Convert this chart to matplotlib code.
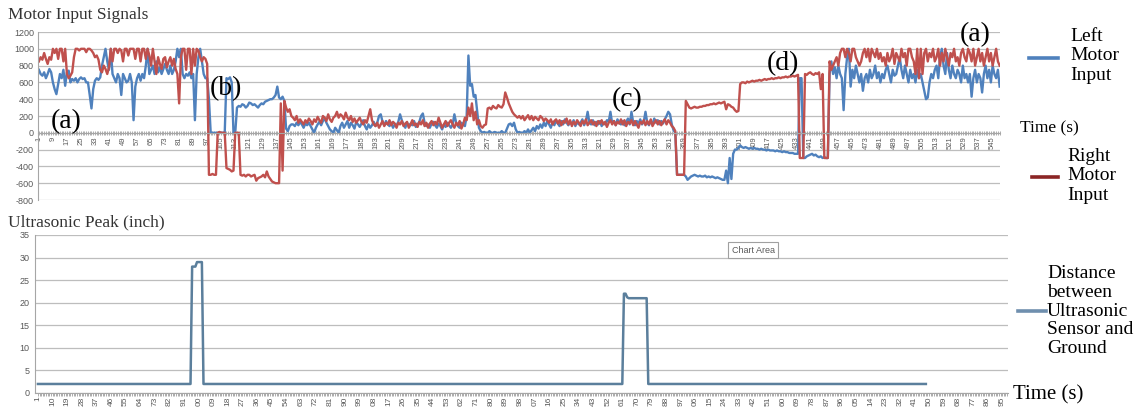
import matplotlib
matplotlib.use('Agg')
import matplotlib.pyplot as plt

# ---------------- data: Motor Input Signals (categories 1..549) ----------------
# Right motor input (red)
right_A = [850, 900, 870, 950, 880, 820, 900, 870,
           1000, 950, 1000, 880, 1000, 1000, 850, 1000,
           700, 650, 680, 720, 900, 1000, 1000, 980,
           1000, 1000, 1000, 960, 1000, 1000, 980, 950,
           900, 920, 870, 750, 720, 800, 760, 700,
           780, 1000, 850, 1000, 1000, 950, 1000, 980,
           850, 1000, 1000, 920, 1000, 1000, 1000, 880,
           1000, 1000, 850, 1000, 1000, 880, 1000, 920,
           800, 1000, 850, 700, 900, 820, 760, 880,
           900, 780, 850, 900, 800, 880, 760, 700,
           350, 900, 1000, 1000, 750, 1000, 1000, 700,
           1000, 800, 1000, 980, 900, 850, 900, 880,
           820]
right_B = [-500, -500, -490, -500, -500,
           0, 10, 0, 0, 0,
           -420, -430, -440, -460, -450,
           0, 0, 0,
           -500, -510, -500, -520, -500, -500, -520, -510, -500,
           -570, -540, -530, -520, -500, -530, -460,
           -520, -550, -580, -590, -600, -600, -600,
           350, -450, 380, 300, 250, 280, 200]
right_C = [180, 150, 200, 120, 160, 130, 100, 150, 120, 170,
           140, 100, 160, 130, 190, 150, 120, 200, 180, 140,
           220, 160, 130, 180, 200, 250, 180, 220, 200, 160,
           240, 180, 150, 200, 130, 170, 120, 150, 180, 130,
           100, 150, 120, 200, 280, 150, 100, 80, 120, 60,
           100, 140, 80, 120, 100, 150, 90, 130, 110, 60,
           120, 100, 140, 80, 110, 130, 60, 100, 150, 90,
           110, 70, 130, 100, 150, 80, 120, 60, 110, 140,
           90, 130, 100, 180, 120, 60, 100, 140, 80, 120,
           150, 100, 60, 120, 90, 140, 50, 100, 180, 150,
           300, 200, 350, 150, 250, 100, 150, 80, 60, 90,
           100, 290, 300, 280, 320, 300, 290, 330, 310, 300,
           340, 480, 420, 350, 300, 250, 220, 200, 180, 200,
           170, 200, 150, 180, 210, 160, 200, 150, 190, 170,
           150, 200, 180, 140, 170, 150, 120, 160, 100, 140,
           160, 110, 150, 90, 140, 120, 170, 100, 150, 80,
           130, 100, 150, 120, 80, 140, 110, 160, 90, 120,
           150, 100, 130, 80, 140, 110, 150, 100, 130, 70,
           120, 150, 100, 140, 90, 130, 110, 160, 100, 150,
           80, 130, 110, 150, 90, 140, 100, 60, 130, 110,
           150, 90, 140, 100, 160, 80, 120, 150, 100, 140,
           90, 130, 160, 100, 150, 120, 80, 60, 20]
right_D = [-500, -500, -500, -500, -500,
           380, 340, 300, 290, 300, 310, 300, 300, 310, 310,
           320, 320, 330, 330, 340, 340, 350, 340, 350, 360,
           350, 360, 370, 280, 340, 330, 310, 300, 270, 250,
           260, 580, 600, 600, 590, 610, 600, 610, 620, 610,
           620, 620, 630, 620, 630, 640, 630, 640, 640, 650,
           640, 650, 650, 660, 650, 660, 660, 670, 660, 670,
           670, 680, 670, 680, 690,
           -300, -300, -300,
           700, 690, 710, 720, 700, 690, 710, 700, 720, 520,
           700, -300, -300, -300]
right_E = [850, 750, 800, 850, 900, 800, 950, 1000, 1000, 900,
           1000, 950, 850, 1000, 1000, 900, 850, 800, 850, 950,
           1000, 900, 1000, 850, 1000, 950, 900, 1000, 880, 950,
           850, 900, 800, 950, 850, 900, 1000, 820, 950, 900,
           850, 1000, 900, 950, 800, 1000, 1000, 900, 850, 700,
           1000, 650, 1000, 700, 950, 1000, 850, 950, 900, 1000,
           850, 900, 1000, 800, 950, 850, 1000, 900, 800, 950,
           900, 1000, 850, 900, 800, 950, 1000, 900, 850, 1000,
           950, 850, 1000, 800, 900, 1000, 850, 950, 800, 900,
           1000, 850, 950, 800, 900, 1000, 850, 800]

# Left motor input (blue)
left_A = [750, 700, 680, 720, 650, 700, 760, 720,
          600, 520, 460, 580, 700, 650, 750, 560,
          720, 740, 600, 640, 620, 650, 600, 640,
          660, 640, 650, 600, 600, 450, 290, 520,
          620, 650, 630, 660, 800, 900, 1000, 850,
          750, 1000, 700, 650, 600, 700, 650, 450,
          700, 650, 600, 620, 700, 600, 150, 550,
          650, 700, 620, 700, 650, 800, 1000, 700,
          750, 800, 700, 850, 720, 780, 700, 760,
          820, 750, 700, 800, 700, 750, 850, 1000,
          900, 1000, 700, 650, 700, 680, 720, 650,
          700, 150, 700, 900, 1000, 850, 700, 650,
          650]
left_B = [400, 0, 0, 0, 0, 0, 0, 0, 0, 0,
          650, 640, 660, 600,
          0, 0,
          300, 320, 310, 340, 330, 300, 320, 360, 350, 330, 340, 320, 300,
          330, 350, 340, 370, 380, 390, 400, 400,
          420, 450, 550, 420, 400, 430, 380,
          50, 20, 80, 100]
left_C = [100, 80, 120, 90, 130, 100, 60, 110, 90, 120,
          80, 40, 0, 60, 100, 130, 90, 140, 170, 120,
          80, 40, 20, 0, 60, 30, 0, 80, 120, 60,
          100, 140, 60, 120, 90, 50, 130, 100, 70, 110,
          150, 80, 40, 100, 60, 90, 130, 80, 120, 200,
          220, 130, 90, 140, 100, 80, 120, 60, 100, 90,
          130, 220, 150, 100, 60, 120, 80, 110, 90, 140,
          70, 100, 130, 200, 230, 120, 80, 100, 60, 110,
          130, 90, 60, 110, 80, 40, 100, 70, 120, 90,
          60, 100, 220, 120, 80, 60, 120, 100, 80, 200,
          920, 560, 580, 430, 450, 250, 60, 20, 0, 10,
          0, 0, 20, 0, 0, 10, 0, 0, 0, 20,
          0, 0, 50, 100, 110, 80, 120, 40, 0, 10,
          0, 0, 20, 0, 40, 0, 30, 60, 20, 80,
          50, 100, 60, 120, 80, 140, 100, 60, 130, 90,
          150, 110, 80, 140, 100, 160, 120, 90, 130, 100,
          150, 80, 130, 100, 120, 160, 90, 140, 250, 120,
          100, 150, 90, 130, 100, 140, 80, 120, 100, 150,
          130, 250, 110, 140, 90, 160, 120, 100, 140, 90,
          130, 170, 100, 250, 120, 90, 140, 110, 160, 100,
          130, 250, 120, 90, 140, 100, 170, 120, 150, 100,
          140, 110, 160, 200, 250, 220, 100, 30, 0]
left_D = [-500, -500, -500, -500, -500,
          -520, -560, -540, -520, -510, -500, -510, -520, -510, -520,
          -520, -510, -530, -520, -530, -520, -530, -540, -530, -540,
          -550, -560, -560, -450, -600, -300, -550, -250, -200, -200,
          -180, -150, -170, -180, -170, -180, -190, -180, -190, -180,
          -190, -190, -200, -190, -200, -200, -210, -200, -210, -210,
          -210, -220, -210, -220, -220, -230, -220, -230, -230, -240,
          -240, -240, -250, -250, -250,
          650, 650, -300,
          -300, -280, -270, -260, -250, -270, -260, -280, -290, -280,
          -300, -290, -300, -300]
left_E = [700, 850, 700, 780, 650, 800, 700, 650, 270, 700,
          900, 1000, 550, 750, 650, 800, 700, 600, 700, 500,
          650, 700, 600, 750, 650, 700, 800, 650, 720, 600,
          700, 650, 750, 800, 700, 600, 750, 680, 700, 800,
          900, 750, 650, 800, 700, 600, 750, 650, 700, 600,
          750, 650, 700, 600, 500, 400, 420, 600, 700, 650,
          750, 800, 650, 900, 1000, 800, 700, 950, 750, 650,
          800, 700, 650, 750, 700, 600, 800, 650, 700, 600,
          700, 430, 650, 750, 600, 700, 650, 480, 700, 800,
          650, 750, 600, 800, 700, 650, 750, 550]

right_motor = right_A + right_B + right_C + right_D + right_E
left_motor = left_A + left_B + left_C + left_D + left_E
time_top = list(range(1, len(right_motor) + 1))
top_label_step = 8
motor_yticks = list(range(-800, 1201, 200))

# ---------------- data: Ultrasonic Peak (inch) ----------------
ultra_base1 = [2] * 95
ultra_peak1 = [28, 28, 28, 29, 29, 29, 29]
ultra_base2 = [2] * 259
ultra_peak2 = [22, 22, 21.2, 21, 21, 21, 21, 21, 21, 21, 21, 21, 21, 21, 21]
ultra_base3 = [2] * 172
ultrasonic = ultra_base1 + ultra_peak1 + ultra_base2 + ultra_peak2 + ultra_base3
time_bottom = list(range(1, len(ultrasonic) + 1))
bottom_n_categories = 598
bottom_label_step = 9
ultra_yticks = list(range(0, 36, 5))

# ---------------- figure ----------------
W, H = 1144, 408
fig = plt.figure(figsize=(W / 100, H / 100), dpi=100)
fig.patch.set_facecolor('white')

def box(l, t, r, b):
    return [l / W, 1 - b / H, (r - l) / W, (b - t) / H]

def px(x, y):
    return x / W, 1 - y / H

SERIF = ['Liberation Serif', 'DejaVu Serif']
SANS = ['Liberation Sans', 'DejaVu Sans']
GRID = '#BDBDBD'
TICKC = '#595959'
BLUE = '#4F81BD'
RED = '#C0504D'

# ---- top chart ----
ax1 = fig.add_axes(box(38, 32, 1000, 200))
ax1.plot(time_top, left_motor, color=BLUE, lw=1.7, solid_joinstyle='round')
ax1.plot(time_top, right_motor, color=RED, lw=1.7, solid_joinstyle='round')
ax1.set_ylim(-800, 1200)
ax1.set_xlim(0.5, len(time_top) + 0.2)
ax1.set_yticks(motor_yticks)
ax1.set_yticklabels([str(v) for v in motor_yticks], fontsize=6.5, color=TICKC, family=SANS)
ax1.yaxis.grid(True, color=GRID, lw=0.9)
ax1.set_axisbelow(True)
for s in ['top', 'right']:
    ax1.spines[s].set_visible(False)
ax1.spines['left'].set_color('#A6A6A6')
ax1.spines['bottom'].set_position(('data', 0))
ax1.spines['bottom'].set_color('#A6A6A6')
ax1.set_xticks(time_top[::top_label_step])
ax1.set_xticklabels([str(t) for t in time_top[::top_label_step]], rotation=90,
                    fontsize=5.5, color=TICKC, family=SANS)
ax1.set_xticks(time_top, minor=True)
ax1.tick_params(axis='x', which='both', direction='inout', length=3.5, width=0.5,
                color='#8C8C8C', pad=1)
ax1.tick_params(axis='y', length=0, pad=3)

# ---- bottom chart ----
ax2 = fig.add_axes(box(35, 235, 1008, 393))
ax2.plot(time_bottom, ultrasonic, color='#5B7F9C', lw=1.8, solid_joinstyle='round')
ax2.set_ylim(0, 35)
ax2.set_xlim(-0.8, bottom_n_categories + 0.6)
ax2.set_yticks(ultra_yticks)
ax2.set_yticklabels([str(v) for v in ultra_yticks], fontsize=6.5, color=TICKC, family=SANS)
ax2.yaxis.grid(True, color=GRID, lw=0.9)
ax2.set_axisbelow(True)
for s in ['top', 'right']:
    ax2.spines[s].set_visible(False)
ax2.spines['left'].set_color('#A6A6A6')
ax2.spines['bottom'].set_color('#A6A6A6')
bottom_cats = list(range(1, bottom_n_categories + 1))
# the reference image shows only the last two digits of each label (cropped at the edge)
bottom_labels = [str(t)[-2:] for t in bottom_cats[::bottom_label_step]]
ax2.set_xticks(bottom_cats[::bottom_label_step])
ax2.set_xticklabels(bottom_labels, rotation=90, fontsize=6, color=TICKC, family=SANS)
ax2.set_xticks(bottom_cats, minor=True)
ax2.tick_params(axis='x', which='both', direction='out', length=2, width=0.5,
                color='#8C8C8C', pad=0.5)
ax2.tick_params(axis='y', length=0, pad=4)

# ---- titles ----
fig.text(*px(8, 15), 'Motor Input Signals', fontsize=12.5, family=SERIF,
         color='#333333', ha='left', va='center')
fig.text(*px(8, 222), 'Ultrasonic Peak (inch)', fontsize=12.5, family=SERIF,
         color='#333333', ha='left', va='center')

# ---- annotations ----
for lab, (x, y) in [('(a)', (66, 122)), ('(b)', (226, 89)), ('(c)', (627, 100)),
                    ('(d)', (783, 64)), ('(a)', (975, 35))]:
    fig.text(*px(x, y), lab, fontsize=20, family=SERIF, color='black',
             ha='center', va='center')

# ---- legends / axis titles ----
fig.add_artist(plt.Line2D([1029 / W, 1058 / W], [1 - 58 / H, 1 - 58 / H],
                          color=BLUE, lw=2.6, transform=fig.transFigure))
fig.text(*px(1070, 56), 'Left\nMotor\nInput', fontsize=14, family=SERIF,
         ha='left', va='center', linespacing=1.22)
fig.add_artist(plt.Line2D([1032 / W, 1058 / W], [1 - 177 / H, 1 - 177 / H],
                          color='#8B2525', lw=2.6, transform=fig.transFigure))
fig.text(*px(1067, 176), 'Right\nMotor\nInput', fontsize=14, family=SERIF,
         ha='left', va='center', linespacing=1.22)
fig.text(*px(1020, 128), 'Time (s)', fontsize=12.5, family=SERIF,
         ha='left', va='center')

fig.add_artist(plt.Line2D([1018 / W, 1046 / W], [1 - 311 / H, 1 - 311 / H],
                          color='#6F8FAE', lw=2.6, transform=fig.transFigure))
fig.text(*px(1047, 311), 'Distance\nbetween\nUltrasonic\nSensor and\nGround', fontsize=14,
         family=SERIF, ha='left', va='center', linespacing=1.15)
fig.text(*px(1013, 395), 'Time (s)', fontsize=15, family=SERIF,
         ha='left', va='center')

# ---- "Chart Area" tooltip ----
fig.text(*px(753, 250), 'Chart Area', fontsize=6.5, family=SANS, color='#595959',
         ha='center', va='center',
         bbox=dict(boxstyle='square,pad=0.35', fc='white', ec='#A0A0A0', lw=0.8))

fig.savefig('out.png', dpi=100, facecolor='white')
